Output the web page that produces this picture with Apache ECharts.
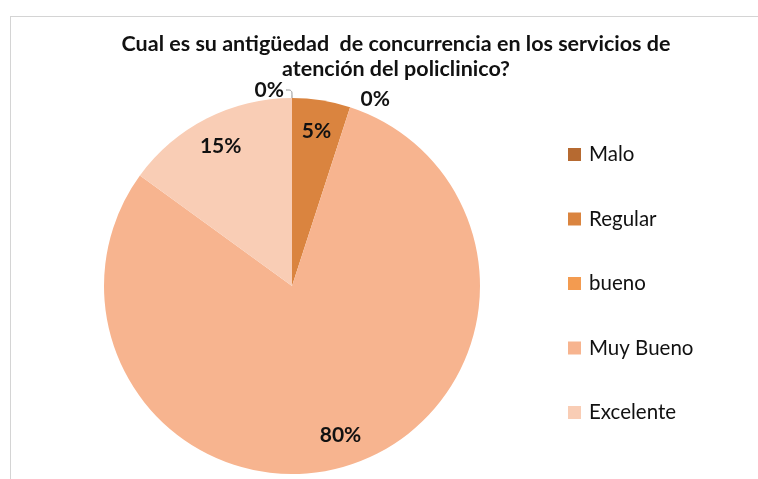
<!DOCTYPE html>
<html>
<head>
<meta charset="utf-8">
<title>Antigüedad de concurrencia</title>
<script src="https://cdn.jsdelivr.net/npm/echarts@6/dist/echarts.min.js"></script>
<style>
  html, body { margin: 0; padding: 0; background: #fff; }
  #frame { position: absolute; left: 10px; top: 16px; width: 748px; height: 463px;
           border-top: 1px solid #d4d4d4; border-left: 1px solid #d4d4d4; }
  #chart { position: absolute; left: 0; top: 0; width: 758px; height: 479px; }
</style>
</head>
<body>
<div id="frame"></div>
<div id="chart"></div>
<script>
var categorias = ['Malo', 'Regular', 'bueno', 'Muy Bueno', 'Excelente'];
var porcentajes = [0, 5, 0, 80, 15];
var colores = ['#B66A31', '#DA843F', '#F39B50', '#F7B48F', '#F9CDB5'];

var fuente = 'Lato, "Open Sans", sans-serif';

var datos = [];
var datosEtiqueta = [];
for (var i = 0; i < categorias.length; i++) {
    var cero = porcentajes[i] === 0;
    datos.push({
        value: porcentajes[i],
        name: categorias[i],
        itemStyle: { color: colores[i] },
        label: { show: cero },
        labelLine: { show: cero && i === 0 }
    });
    datosEtiqueta.push({
        value: porcentajes[i],
        name: categorias[i],
        label: { show: !cero }
    });
}

var dom = document.getElementById('chart');
var myChart = echarts.init(dom);
var option = {
    animation: false,
    title: {
        text: 'Cual es su antigüedad  de concurrencia en los servicios de\natención del policlinico?',
        left: 391,
        top: 27,
        textAlign: 'center',
        textStyle: { fontFamily: fuente, fontSize: 21.5, fontWeight: 'bold', color: '#111', lineHeight: 25 }
    },
    legend: {
        orient: 'vertical',
        left: 563,
        top: 139,
        icon: 'rect',
        itemWidth: 13,
        itemHeight: 13,
        itemGap: 43.5,
        selectedMode: false,
        data: categorias,
        textStyle: { fontFamily: fuente, fontSize: 20.5, lineHeight: 20, color: '#111', padding: [0, 0, 0, 3] }
    },
    series: [
        {
            name: 'Antigüedad',
            type: 'pie',
            center: [292, 286],
            radius: 188,
            startAngle: 90.001,
            clockwise: true,
            minAngle: 0,
            avoidLabelOverlap: false,
            stillShowZeroSum: true,
            label: {
                position: 'outside',
                formatter: '{d}%',
                fontFamily: fuente,
                fontSize: 21,
                fontWeight: 'bold',
                color: '#111',
                distanceToLabelLine: 2
            },
            labelLine: {
                length: 8,
                length2: 6,
                smooth: 0.3,
                lineStyle: { color: '#8c8c8c', width: 1 }
            },
            emphasis: { disabled: true },
            data: datos
        },
        {
            name: 'Etiquetas',
            type: 'pie',
            silent: true,
            center: [292, 286],
            radius: [120, 188],
            startAngle: 90.001,
            clockwise: true,
            itemStyle: { color: 'rgba(0,0,0,0)' },
            label: {
                position: 'inside',
                formatter: '{d}%',
                fontFamily: fuente,
                fontSize: 21,
                fontWeight: 'bold',
                color: '#111'
            },
            labelLine: { show: false },
            emphasis: { disabled: true },
            data: datosEtiqueta
        }
    ]
};
myChart.setOption(option);
</script>
</body>
</html>
